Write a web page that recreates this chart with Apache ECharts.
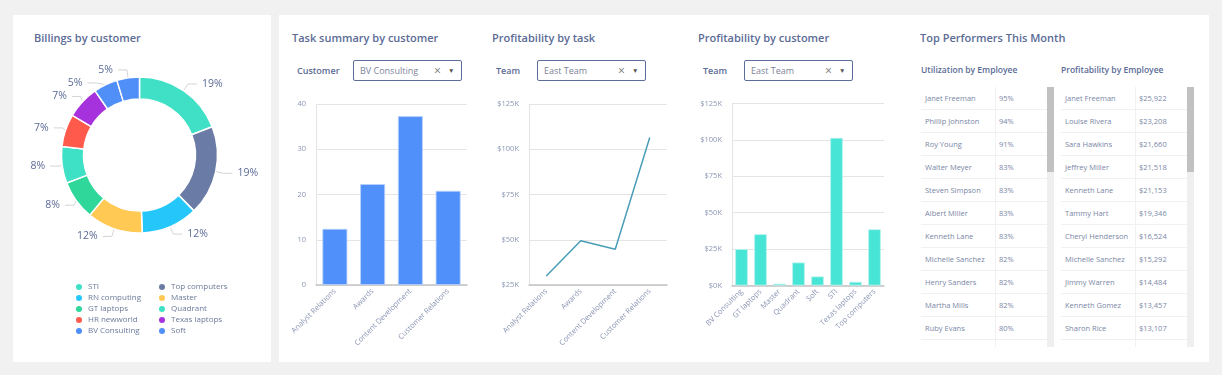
<!DOCTYPE html>
<html><head><meta charset="utf-8">
<script src="https://cdn.jsdelivr.net/npm/echarts@6/dist/echarts.min.js"></script>
<style>
html,body{margin:0;padding:0;width:1222px;height:375px;background:#f1f1f1;overflow:hidden;font-family:"Open Sans",sans-serif;}
.panel{position:absolute;background:#fff;}
.t{position:absolute;white-space:nowrap;}
.title{font-size:11px;font-weight:600;color:#5b6b96;height:14px;line-height:14px;}
.lbl{font-size:9px;font-weight:600;color:#5b6b96;height:12px;line-height:12px;}
.dd{position:absolute;height:19px;border:1.5px solid #5d6d99;border-radius:2px;box-sizing:content-box;}
.dd span{position:absolute;font-size:9px;color:#7d8499;top:0;line-height:19px;}
.sub{font-size:8.5px;font-weight:600;color:#5b6b96;height:12px;line-height:12px;}
.tbl{position:absolute;height:260px;overflow:hidden;}
.row{position:relative;height:22px;border-bottom:1px solid #f1f1f1;font-size:7.5px;color:#7b87a6;line-height:23px;}
.row .c1{position:absolute;left:4px;}
.row .c2{position:absolute;left:78px;}
.vdiv{position:absolute;width:1px;background:#f1f1f1;}
.track{position:absolute;background:#efefef;}
.thumb{position:absolute;background:#c1c1c1;}
#chart{position:absolute;left:0;top:0;width:1222px;height:375px;pointer-events:none;}
</style>
</head><body>
<div class="panel" style="left:13px;top:15px;width:258px;height:347px;"></div>
<div class="panel" style="left:279px;top:15px;width:930px;height:347px;"></div>

<div class="t title" style="left:34px;top:31px;">Billings by customer</div>
<div class="t title" style="left:292px;top:31px;">Task summary by customer</div>
<div class="t title" style="left:492px;top:31px;">Profitability by task</div>
<div class="t title" style="left:698px;top:31px;">Profitability by customer</div>
<div class="t title" style="left:920px;top:31px;">Top Performers This Month</div>

<div class="t lbl" style="left:297px;top:65px;">Customer</div>
<div class="dd" style="left:353px;top:60px;width:107px;"><span style="left:6px;">BV Consulting</span><span style="left:80px;font-size:12px;color:#777;">×</span><span style="left:94px;font-size:6.5px;color:#555;">▼</span></div>
<div class="t lbl" style="left:496px;top:65px;">Team</div>
<div class="dd" style="left:537px;top:60px;width:107px;"><span style="left:6px;">East Team</span><span style="left:80px;font-size:12px;color:#777;">×</span><span style="left:94px;font-size:6.5px;color:#555;">▼</span></div>
<div class="t lbl" style="left:703px;top:65px;">Team</div>
<div class="dd" style="left:744px;top:60px;width:107px;"><span style="left:6px;">East Team</span><span style="left:80px;font-size:12px;color:#777;">×</span><span style="left:94px;font-size:6.5px;color:#555;">▼</span></div>

<div class="t sub" style="left:921px;top:64px;">Utilization by Employee</div>
<div class="t sub" style="left:1061px;top:64px;">Profitability by Employee</div>
<div class="tbl" id="tblU" style="left:921px;top:87px;width:126px;"></div>
<div class="tbl" id="tblP" style="left:1061px;top:87px;width:126px;"></div>
<div class="vdiv" style="left:995px;top:87px;height:260px;"></div>
<div class="vdiv" style="left:1135px;top:87px;height:260px;"></div>
<div class="track" style="left:1047px;top:87px;width:7px;height:260px;"></div>
<div class="thumb" style="left:1047px;top:87px;width:7px;height:85px;"></div>
<div class="track" style="left:1187px;top:87px;width:7px;height:260px;"></div>
<div class="thumb" style="left:1187px;top:87px;width:7px;height:85px;"></div>

<div id="chart"></div>
<script>
// ---- data ----
var billingCustomers = ['STI','Top computers','RN computing','Master','GT laptops','Quadrant','HR newworld','Texas laptops','BV Consulting','Soft'];
var billingValues = [19.2,18.7,11.8,11.6,8.2,7.6,6.8,6.9,5.0,4.7];
var tasks = ['Analyst Relations','Awards','Content Development','Customer Relations'];
var taskCounts = [12.4,22.3,37.3,20.8];
var taskProfit = [30000,49500,44700,106500];
var profCustomers = ['BV Consulting','GT laptops','Master','Quadrant','Soft','STI','Texas laptops','Top computers'];
var profCustValues = [25000,35200,1200,15800,6200,101400,2500,38600];
var utilNames = ['Janet Freeman','Phillip Johnston','Roy Young','Walter Meyer','Steven Simpson','Albert Miller','Kenneth Lane','Michelle Sanchez','Henry Sanders','Martha Mills','Ruby Evans'];
var utilValues = ['95%','94%','91%','83%','83%','83%','83%','82%','82%','82%','80%'];
var profNames = ['Janet Freeman','Louise Rivera','Sara Hawkins','Jeffrey Miller','Kenneth Lane','Tammy Hart','Cheryl Henderson','Michelle Sanchez','Jimmy Warren','Kenneth Gomez','Sharon Rice'];
var profValues = ['$25,922','$23,208','$21,660','$21,518','$21,153','$19,346','$16,524','$15,292','$14,484','$13,457','$13,107'];
var legendLeft = ['STI','RN computing','GT laptops','HR newworld','BV Consulting'];
var legendRight = ['Top computers','Master','Quadrant','Texas laptops','Soft'];

// ---- styles ----
var pieColors = ['#3fe0c6','#6a7ca5','#25c7fb','#ffc954','#2fd89a','#3ee0c6','#ff5a4b','#a532dc','#4f8ff7','#4f8ff7'];
var txt = '#5b6b96', axTxt = '#8c96b4', gridC = '#e4e4e4';

function fillTable(id, names, vals){
  var el = document.getElementById(id), h = '';
  for (var i=0;i<names.length;i++) h += '<div class="row"><span class="c1">'+names[i]+'</span><span class="c2">'+vals[i]+'</span></div>';
  h += '<div class="row"></div>';
  el.innerHTML = h;
}
fillTable('tblU', utilNames, utilValues);
fillTable('tblP', profNames, profValues);

function kfmt(v){ return '$' + Math.round(v/1000) + 'K'; }
function xAx(gi, data){
  return {type:'category', gridIndex:gi, data:data,
    axisLine:{lineStyle:{color:'#c4c4c4', width:1.5}}, axisTick:{show:false},
    axisLabel:{rotate:45, interval:0, fontSize:7.5, color:axTxt, margin:5, fontFamily:'Open Sans'}};
}
function yAx(gi, min, max, itv, fmt){
  return {type:'value', gridIndex:gi, min:min, max:max, interval:itv,
    axisLine:{show:true, lineStyle:{color:gridC}}, axisTick:{show:false},
    splitLine:{lineStyle:{color:gridC}},
    axisLabel:{fontSize:7.5, color:axTxt, margin:10, formatter:fmt, fontFamily:'Open Sans'}};
}

var chart = echarts.init(document.getElementById('chart'), null, {renderer:'canvas'});
chart.setOption({
  animation:false,
  textStyle:{fontFamily:'Open Sans'},
  grid:[
    {left:316, top:104, width:151, height:181},
    {left:529, top:104, width:138, height:181},
    {left:732, top:103.5, width:152, height:182}
  ],
  xAxis:[xAx(0,tasks), xAx(1,tasks), xAx(2,profCustomers)],
  yAxis:[yAx(0,0,40,10,null), yAx(1,25000,125000,25000,kfmt), yAx(2,0,125000,25000,kfmt)],
  legend:[
    {data:legendLeft, orient:'vertical', left:69, top:277, icon:'circle', itemWidth:8, itemHeight:8, itemGap:1,
      textStyle:{fontSize:8, color:'#6b7a99'}},
    {data:legendRight, orient:'vertical', left:152, top:277, icon:'circle', itemWidth:8, itemHeight:8, itemGap:1,
      textStyle:{fontSize:8, color:'#6b7a99'}}
  ],
  series:[
    {type:'pie', center:[139.5,155], radius:[56,78], startAngle:90,
      data: billingCustomers.map(function(n,i){return {name:n, value:billingValues[i], itemStyle:{color:pieColors[i]}};}),
      itemStyle:{borderColor:'#fff', borderWidth:1.5},
      label:{formatter:function(p){return Math.round(p.percent)+'%';}, fontSize:10.5, color:txt},
      labelLine:{length:8, length2:9, lineStyle:{color:'#d4d4d4'}}},
    {type:'bar', xAxisIndex:0, yAxisIndex:0, data:taskCounts, barWidth:'66%',
      itemStyle:{color:'#5090fa', borderColor:'#b9d2fc', borderWidth:0.8}},
    {type:'line', xAxisIndex:1, yAxisIndex:1, data:taskProfit, showSymbol:false,
      lineStyle:{color:'#4a9db8', width:1.5}, itemStyle:{color:'#4a9db8'}},
    {type:'bar', xAxisIndex:2, yAxisIndex:2, data:profCustValues, barWidth:'66%',
      itemStyle:{color:'#47e5d6', borderColor:'#b5f3ee', borderWidth:0.8}}
  ]
});
</script>
</body></html>
